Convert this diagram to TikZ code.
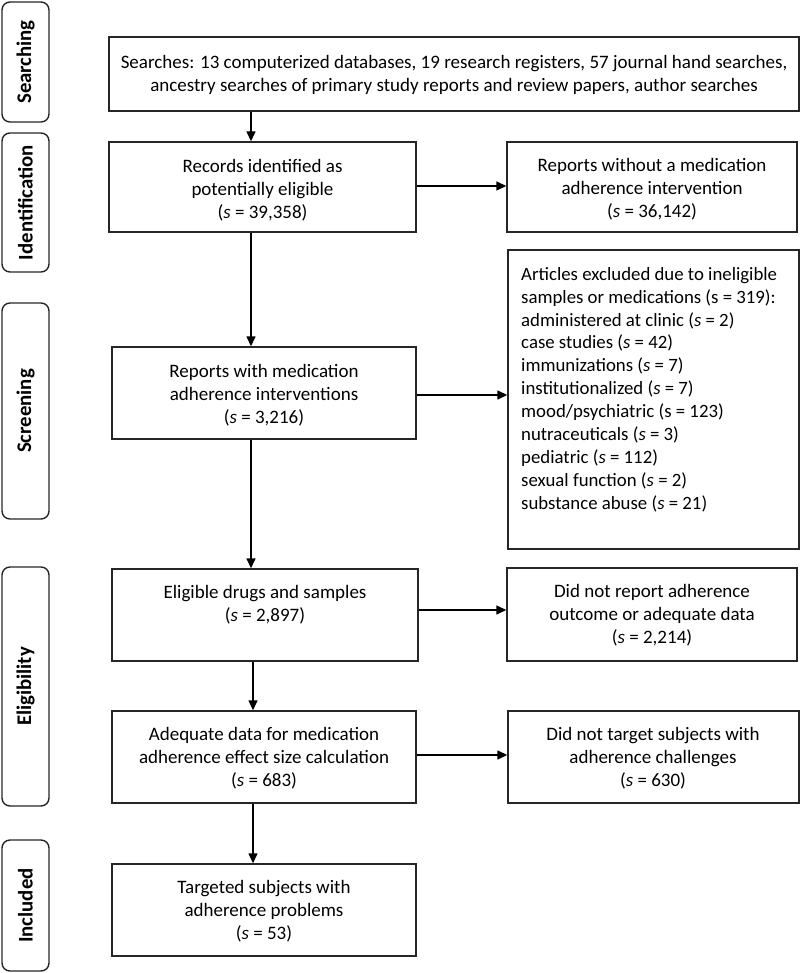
\documentclass[tikz,border=0pt]{standalone}
\usepackage{fontspec}
\setmainfont{Carlito}
\usetikzlibrary{fit,arrows.meta}
\begin{document}
\begin{tikzpicture}[x=1pt,y=-1pt,
  box/.style={draw=black!85, line width=1.4pt, inner sep=0pt},
  btext/.style={inner sep=0pt, align=center, font=\fontsize{19}{23}\selectfont},
  phase/.style={draw=black!85, line width=1.4pt, inner sep=0pt, rounded corners=8pt},
  phasetext/.style={rotate=90, font=\fontsize{20.8}{23}\selectfont\bfseries, inner sep=0pt},
  arr/.style={line width=1.4pt, -{Triangle[length=10pt,width=9pt]}}]
\useasboundingbox (0,0) rectangle (800,973);
% phase labels
\node[phase, fit={(2,2)(49,122)}] (p1) {};
\node[phasetext] (p1t) at (p1.center) {Searching};
\node[phase, fit={(2,133)(49,272)}] (p2) {};
\node[phasetext] (p2t) at (p2.center) {Identification};
\node[phase, fit={(2,303)(49,519)}] (p3) {};
\node[phasetext] (p3t) at (p3.center) {Screening};
\node[phase, fit={(2,567)(49,806)}] (p4) {};
\node[phasetext] (p4t) at (p4.center) {Eligibility};
\node[phase, fit={(2,840)(49,971)}] (p5) {};
\node[phasetext] (p5t) at (p5.center) {Included};
% boxes
\node[box, fit={(109,37)(799,111)}] (top) {};
\node[btext] (topt) at (454,75) {Searches: 13 computerized databases, 19 research registers, 57 journal hand searches,\\ancestry searches of primary study reports and review papers, author searches};
\node[box, fit={(109,142)(416,232)}] (rec) {};
\node[btext] (rect) at (262.5,190) {Records identified as\\potentially eligible\\(\textit{s} = 39,358)};
\node[box, fit={(507,142)(797,232)}] (without) {};
\node[btext] (withoutt) at (652,189) {Reports without a medication\\adherence intervention\\(\textit{s} = 36,142)};
\node[box, fit={(508,250)(799,549)}] (art) {};
\node[anchor=north west, inner sep=0pt, align=left, font=\fontsize{18.8}{22.9}\selectfont] (arttext) at (521,267) {Articles excluded due to ineligible\\samples or medications (s = 319):\\administered at clinic (\textit{s} = 2)\\case studies (\textit{s} = 42)\\immunizations (\textit{s} = 7)\\institutionalized (\textit{s} = 7)\\mood/psychiatric (s = 123)\\nutraceuticals (\textit{s} = 3)\\pediatric (\textit{s} = 112)\\sexual function (\textit{s} = 2)\\substance abuse (\textit{s} = 21)};
\node[box, fit={(112,347)(416,439)}] (rw) {};
\node[btext] (rwt) at (264,395) {Reports with medication\\adherence interventions\\(\textit{s} = 3,216)};
\node[box, fit={(112,569)(418,661)}] (elig) {};
\node[btext] (eligt) at (265,605) {Eligible drugs and samples\\(\textit{s} = 2,897)};
\node[box, fit={(507,568)(797,661)}] (dnr) {};
\node[btext] (dnrt) at (652,615) {Did not report adherence\\outcome or adequate data\\(\textit{s} = 2,214)};
\node[box, fit={(112,711)(416,803)}] (adq) {};
\node[btext] (adqt) at (264,758) {Adequate data for medication\\adherence effect size calculation\\(\textit{s} = 683)};
\node[box, fit={(508,711)(799,803)}] (dnt) {};
\node[btext] (dntt) at (653,758) {Did not target subjects with\\adherence challenges\\(\textit{s} = 630)};
\node[box, fit={(112,864)(416,956)}] (tgt) {};
\node[btext] (tgtt) at (264,911) {Targeted subjects with\\adherence problems\\(\textit{s} = 53)};
% connectors
\coordinate (cx) at (251,0);
\coordinate (cy) at (253,0);
\draw[arr] (top.south -| cx) -- (rec.north -| cx);
\draw[arr] (rec.south -| cx) -- (rw.north -| cx);
\draw[arr] (rw.south -| cx) -- (elig.north -| cx);
\draw[arr] (elig.south -| cy) -- (adq.north -| cy);
\draw[arr] (adq.south -| cy) -- (tgt.north -| cy);
\coordinate (h1) at (0,186);
\coordinate (h2) at (0,395);
\coordinate (h3) at (0,610);
\coordinate (h4) at (0,755);
\draw[arr] (rec.east |- h1) -- (without.west |- h1);
\draw[arr] (rw.east |- h2) -- (art.west |- h2);
\draw[arr] (elig.east |- h3) -- (dnr.west |- h3);
\draw[arr] (adq.east |- h4) -- (dnt.west |- h4);
\end{tikzpicture}
\end{document}
